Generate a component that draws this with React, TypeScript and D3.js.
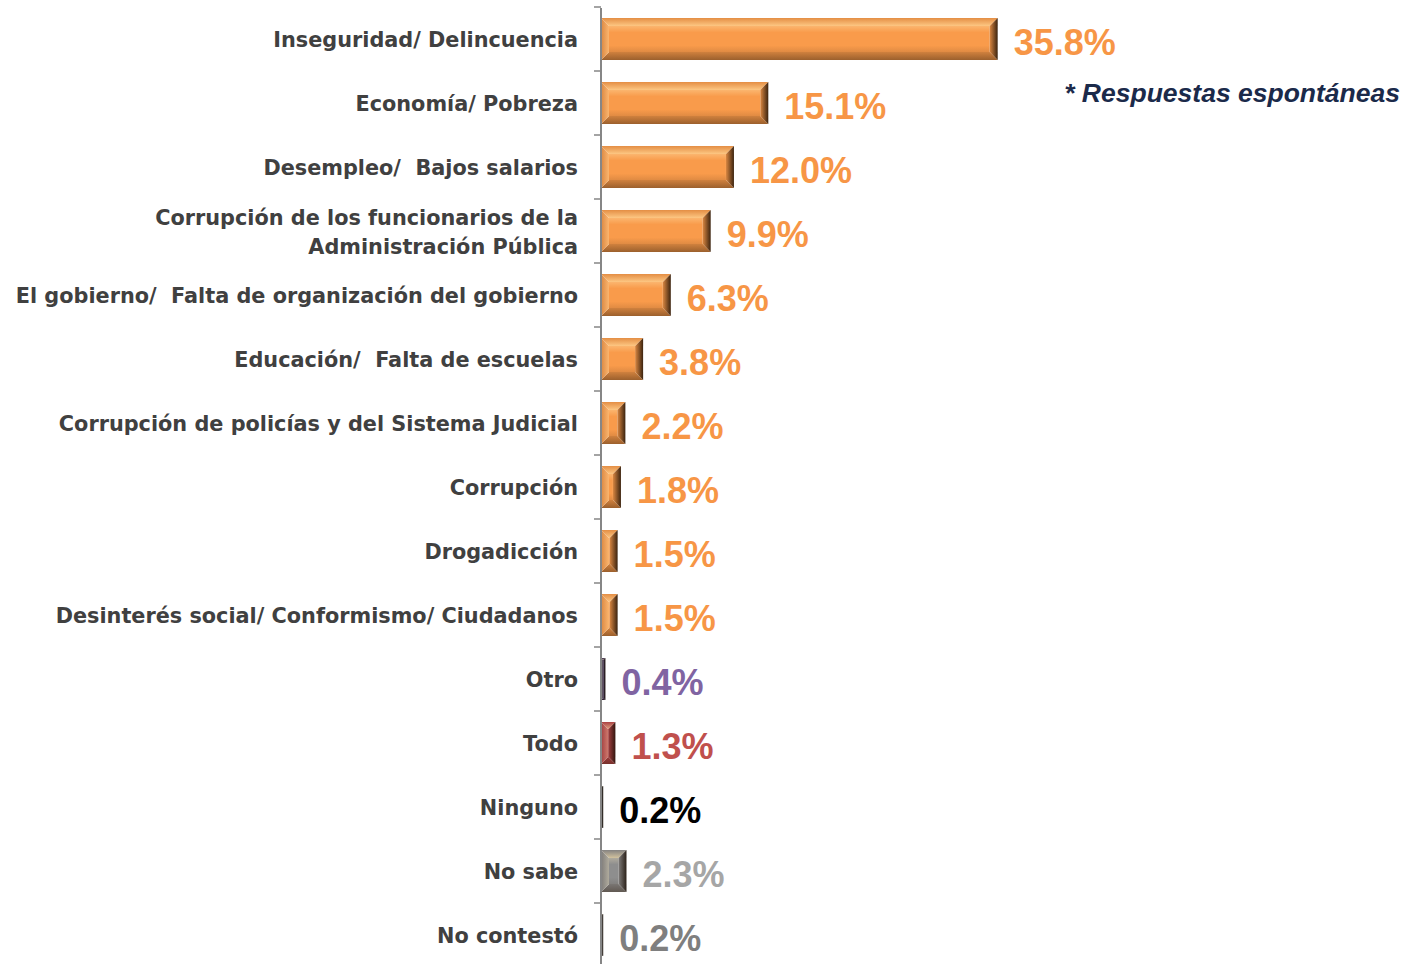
import React from "react";
import * as d3 from "d3";

const categories: string[][] = [
  ["Inseguridad/ Delincuencia"],
  ["Economía/ Pobreza"],
  ["Desempleo/  Bajos salarios"],
  ["Corrupción de los funcionarios de la", "Administración Pública"],
  ["El gobierno/  Falta de organización del gobierno"],
  ["Educación/  Falta de escuelas"],
  ["Corrupción de policías y del Sistema Judicial"],
  ["Corrupción"],
  ["Drogadicción"],
  ["Desinterés social/ Conformismo/ Ciudadanos"],
  ["Otro"],
  ["Todo"],
  ["Ninguno"],
  ["No sabe"],
  ["No contestó"],
];
const values: number[] = [35.8, 15.1, 12.0, 9.9, 6.3, 3.8, 2.2, 1.8, 1.5, 1.5, 0.4, 1.3, 0.2, 2.3, 0.2];
const valueLabels: string[] = ["35.8%", "15.1%", "12.0%", "9.9%", "6.3%", "3.8%", "2.2%", "1.8%", "1.5%", "1.5%", "0.4%", "1.3%", "0.2%", "2.3%", "0.2%"];
const barColors: string[] = [
  "#F99B4B", "#F99B4B", "#F99B4B", "#F99B4B", "#F99B4B", "#F99B4B", "#F99B4B", "#F99B4B", "#F99B4B", "#F99B4B",
  "#3A2C50", "#B9464A", "#1A1A1A", "#8E8E8E", "#3A3A3A",
];
const labelColors: string[] = [
  "#F79646", "#F79646", "#F79646", "#F79646", "#F79646", "#F79646", "#F79646", "#F79646", "#F79646", "#F79646",
  "#8064A2", "#C0504D", "#000000", "#A6A6A6", "#7F7F7F",
];
const note = "* Respuestas espontáneas";

const W = 1412;
const H = 964;
const axisX = 601;

function BevelBar({ x, y, w, h, color, id }: { x: number; y: number; w: number; h: number; color: string; id: string }) {
  const b = Math.max(0, Math.min(8, w / 2, h / 2));
  const light = d3.interpolateRgb(color, "#FFE4A8")(0.6);
  const lighter = d3.interpolateRgb(color, "#FFF0C0")(0.3);
  const dark = d3.interpolateRgb(color, "#2A1808")(0.45);
  const darkest = d3.interpolateRgb(color, "#1A0E04")(0.85);
  const x1 = x + w;
  const y1 = y + h;
  return (
    <g>
      <defs>
        <linearGradient id={`${id}-face`} x1="0" y1="0" x2="0" y2="1">
          <stop offset="0" stopColor={lighter} />
          <stop offset="0.25" stopColor={color} />
          <stop offset="0.75" stopColor={color} />
          <stop offset="1" stopColor={d3.interpolateRgb(color, "#2A1808")(0.12)} />
        </linearGradient>
        <linearGradient id={`${id}-top`} x1="0" y1="0" x2="0" y2="1">
          <stop offset="0" stopColor={d3.interpolateRgb(color, "#2A1808")(0.1)} />
          <stop offset="1" stopColor={light} />
        </linearGradient>
        <linearGradient id={`${id}-bot`} x1="0" y1="0" x2="0" y2="1">
          <stop offset="0" stopColor={d3.interpolateRgb(color, "#2A1808")(0.2)} />
          <stop offset="1" stopColor={dark} />
        </linearGradient>
        <linearGradient id={`${id}-left`} x1="0" y1="0" x2="1" y2="0">
          <stop offset="0" stopColor={d3.interpolateRgb(color, "#2A1808")(0.15)} />
          <stop offset="1" stopColor={lighter} />
        </linearGradient>
        <linearGradient id={`${id}-right`} x1="0" y1="0" x2="1" y2="0">
          <stop offset="0" stopColor={d3.interpolateRgb(color, "#2A1808")(0.15)} />
          <stop offset="1" stopColor={darkest} />
        </linearGradient>
      </defs>
      <rect x={x + b} y={y + b} width={Math.max(0, w - 2 * b)} height={Math.max(0, h - 2 * b)} fill={`url(#${id}-face)`} />
      <polygon points={`${x},${y} ${x1},${y} ${x1 - b},${y + b} ${x + b},${y + b}`} fill={`url(#${id}-top)`} />
      <polygon points={`${x},${y1} ${x1},${y1} ${x1 - b},${y1 - b} ${x + b},${y1 - b}`} fill={`url(#${id}-bot)`} />
      <polygon points={`${x},${y} ${x + b},${y + b} ${x + b},${y1 - b} ${x},${y1}`} fill={`url(#${id}-left)`} />
      <polygon points={`${x1},${y} ${x1 - b},${y + b} ${x1 - b},${y1 - b} ${x1},${y1}`} fill={`url(#${id}-right)`} />
    </g>
  );
}

export default function App() {
  const idx = categories.map((_, i) => String(i));
  const y = d3.scaleBand<string>().domain(idx).range([7, 967]).paddingInner(0.34375).paddingOuter(0.171875);
  const x = d3.scaleLinear().domain([0, 40]).range([axisX, axisX + 40 * 11.08]);
  const step = y.step();
  const ticks = d3.range(categories.length + 1).map((k) => 7 + k * step);

  return (
    <svg width={W} height={H} style={{ position: "absolute", left: 0, top: 0, background: "#fff" }}>
      {idx.map((k, i) => {
        const by = y(k)!;
        const bw = x(values[i]) - x(0);
        return (
          <BevelBar key={k} id={`bar${i}`} x={x(0)} y={by} w={bw} h={y.bandwidth()} color={barColors[i]} />
        );
      })}
      <line x1={axisX} x2={axisX} y1={8} y2={H} stroke="#868686" strokeWidth={2} />
      {ticks.map((t, i) => (
        <line key={i} x1={axisX - 7} x2={axisX} y1={t} y2={t} stroke="#868686" strokeWidth={1.5} />
      ))}
      {idx.map((k, i) => {
        const cy = y(k)! + y.bandwidth() / 2;
        const lines = categories[i];
        const lh = 29;
        return (
          <text
            key={k}
            textAnchor="end"
            fontFamily="'DejaVu Sans', sans-serif"
            fontWeight="bold"
            fontSize={20.8}
            fill="#404040"
            style={{ whiteSpace: "pre" }}
          >
            {lines.map((ln, j) => (
              <tspan key={j} x={578} y={cy + 1 + (j - (lines.length - 1) / 2) * lh} dy="0.35em">
                {ln}
              </tspan>
            ))}
          </text>
        );
      })}
      {idx.map((k, i) => {
        const cy = y(k)! + y.bandwidth() / 2;
        return (
          <text
            key={k}
            x={x(values[i]) + 16}
            y={cy + 3}
            dy="0.36em"
            fontFamily="'Liberation Sans', Arial, sans-serif"
            fontWeight="bold"
            fontSize={36}
            fill={labelColors[i]}
          >
            {valueLabels[i]}
          </text>
        );
      })}
      <text
        x={1400}
        y={102}
        textAnchor="end"
        fontFamily="'Liberation Sans', Arial, sans-serif"
        fontWeight="bold"
        fontStyle="italic"
        fontSize={26.5}
        fill="#1B2A4A"
      >
        {note}
      </text>
    </svg>
  );
}
